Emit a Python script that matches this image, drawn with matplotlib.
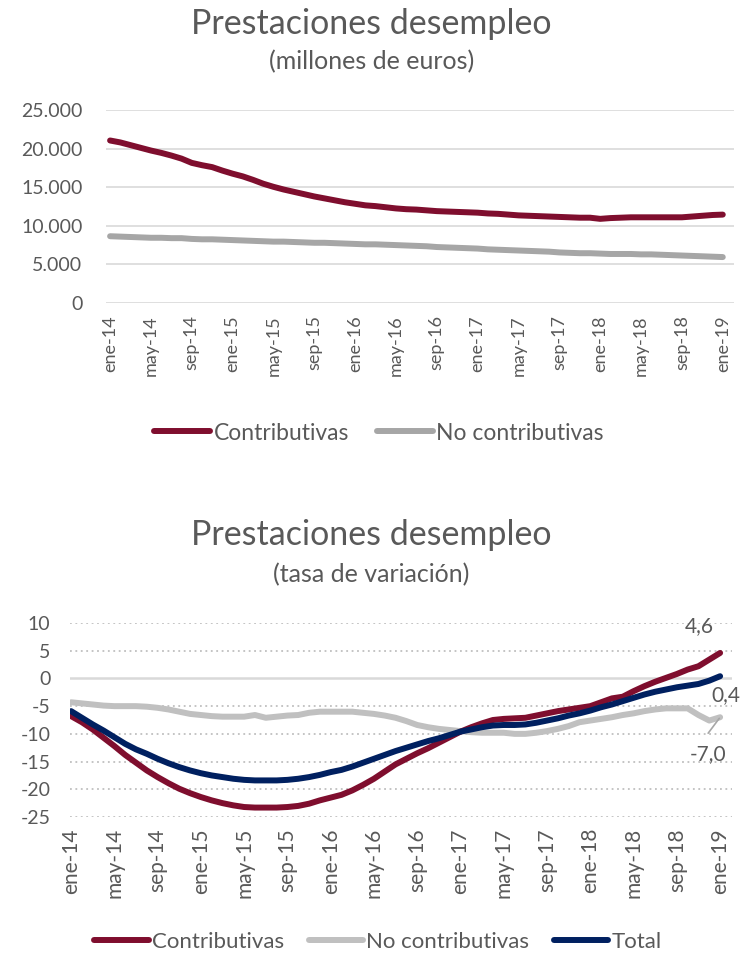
import matplotlib
matplotlib.use("Agg")
import matplotlib.pyplot as plt
from matplotlib.ticker import FuncFormatter, FixedLocator
from matplotlib.lines import Line2D

plt.rcParams['font.family'] = ['Lato', 'DejaVu Sans']

# ---------------- data ----------------
months = ["ene", "feb", "mar", "abr", "may", "jun", "jul", "ago", "sep", "oct", "nov", "dic"]
years = ["14", "15", "16", "17", "18", "19"]
categories = [f"{m}-{y}" for y in years for m in months][:61]   # ene-14 .. ene-19

tick_labels = ["ene-14", "may-14", "sep-14", "ene-15", "may-15", "sep-15", "ene-16", "may-16",
               "sep-16", "ene-17", "may-17", "sep-17", "ene-18", "may-18", "sep-18", "ene-19"]

# millones de euros
contrib_eur = [21050, 20800, 20450, 20100, 19750, 19450, 19100, 18700, 18150, 17850, 17600, 17150,
               16750, 16400, 15950, 15450, 15050, 14700, 14400, 14100, 13800, 13550, 13300, 13050,
               12850, 12650, 12550, 12400, 12250, 12150, 12100, 12000, 11900, 11850, 11800, 11750,
               11700, 11600, 11550, 11450, 11350, 11300, 11250, 11200, 11150, 11100, 11050, 11050,
               10900, 11000, 11050, 11100, 11100, 11100, 11100, 11100, 11100, 11200, 11300, 11400,
               11450]
nocontrib_eur = [8650, 8600, 8550, 8500, 8450, 8450, 8400, 8400, 8300, 8250, 8250, 8200,
                 8150, 8100, 8050, 8000, 7950, 7950, 7900, 7850, 7800, 7800, 7750, 7700,
                 7650, 7600, 7600, 7550, 7500, 7450, 7400, 7350, 7250, 7200, 7150, 7100,
                 7050, 6950, 6900, 6850, 6800, 6750, 6700, 6650, 6550, 6500, 6450, 6450,
                 6400, 6350, 6350, 6350, 6300, 6300, 6250, 6200, 6150, 6100, 6050, 6000,
                 5950]

# tasa de variación (%)
contrib_var = [-6.8, -7.9, -9.2, -10.7, -12.2, -13.8, -15.2, -16.6, -17.8, -18.9, -19.9, -20.7,
               -21.4, -22.0, -22.5, -22.9, -23.2, -23.3, -23.3, -23.3, -23.2, -23.0, -22.6, -22.0,
               -21.5, -21.0, -20.2, -19.2, -18.1, -16.8, -15.5, -14.5, -13.5, -12.6, -11.6, -10.6,
               -9.6, -8.8, -8.1, -7.5, -7.3, -7.2, -7.1, -6.7, -6.3, -5.9, -5.6, -5.3,
               -5.0, -4.3, -3.6, -3.3, -2.3, -1.4, -0.6, 0.1, 0.8, 1.6, 2.2, 3.4,
               4.6]
nocontrib_var = [-4.3, -4.5, -4.7, -4.9, -5.0, -5.0, -5.0, -5.1, -5.3, -5.6, -6.0, -6.4,
                 -6.6, -6.8, -6.9, -6.9, -6.9, -6.6, -7.1, -6.9, -6.7, -6.6, -6.2, -6.0,
                 -6.0, -6.0, -6.0, -6.2, -6.4, -6.7, -7.1, -7.7, -8.4, -8.8, -9.1, -9.3,
                 -9.5, -9.7, -9.8, -9.8, -9.8, -10.0, -10.0, -9.8, -9.5, -9.1, -8.6, -7.9,
                 -7.6, -7.3, -7.0, -6.6, -6.3, -5.9, -5.6, -5.4, -5.4, -5.4, -6.6, -7.6,
                 -7.0]
total_var = [-5.9, -7.1, -8.3, -9.4, -10.6, -11.8, -12.8, -13.6, -14.5, -15.3, -16.0, -16.6,
             -17.1, -17.5, -17.8, -18.1, -18.3, -18.4, -18.4, -18.4, -18.3, -18.1, -17.8, -17.4,
             -16.9, -16.5, -15.9, -15.2, -14.5, -13.8, -13.1, -12.5, -11.9, -11.3, -10.8, -10.2,
             -9.6, -9.2, -8.8, -8.5, -8.4, -8.4, -8.3, -8.0, -7.6, -7.2, -6.7, -6.3,
             -5.8, -5.2, -4.7, -4.1, -3.5, -2.9, -2.4, -2.0, -1.6, -1.3, -1.0, -0.4,
             0.4]

end_labels = ["4,6", "0,4", "-7,0"]

# ---------------- style ----------------
RED = "#7F0E2E"
NAVY = "#002060"
GRAY_TOP = "#A6A6A6"
GRAY_BOT = "#C0C0C0"
TXT = "#595959"
GRID = "#D9D9D9"
LW = 4.3

W, H = 743, 956
fig = plt.figure(figsize=(W / 100, H / 100), dpi=100)

def fx(px):
    return px / W

def fy(py):
    return 1 - py / H

x = list(range(len(categories)))
tick_pos = [categories.index(t) for t in tick_labels]

# ---------------- top chart ----------------
ax1 = fig.add_axes([fx(106), fy(303), fx(734) - fx(106), fy(110) - fy(303)])
ax1.plot(x, contrib_eur, color=RED, lw=LW, solid_capstyle='round', zorder=3)
ax1.plot(x, nocontrib_eur, color=GRAY_TOP, lw=LW, solid_capstyle='round', zorder=3)
ax1.set_ylim(0, 25000)
ax1.set_xlim(-0.4, 61.1)
ax1.yaxis.set_major_locator(FixedLocator([0, 5000, 10000, 15000, 20000, 25000]))
ax1.yaxis.set_major_formatter(FuncFormatter(lambda v, p: f"{int(v):,}".replace(",", ".")))
ax1.grid(axis='y', color=GRID, lw=1.2)
ax1.set_axisbelow(True)
ax1.set_xticks(tick_pos)
ax1.set_xticklabels(tick_labels, rotation=90)
for s in ax1.spines.values():
    s.set_visible(False)
ax1.tick_params(axis='both', length=0, colors=TXT)
ax1.tick_params(axis='y', pad=17, labelsize=14)
ax1.tick_params(axis='x', pad=9, labelsize=13)

fig.text(0.5, fy(24), "Prestaciones desempleo", ha='center', va='center', fontsize=24.5, color=TXT)
fig.text(0.5, fy(62), "(millones de euros)", ha='center', va='center', fontsize=18, color=TXT)

h1 = [Line2D([], [], color=RED, lw=LW, solid_capstyle='round'),
      Line2D([], [], color=GRAY_TOP, lw=LW, solid_capstyle='round')]
fig.legend(h1, ["Contributivas", "No contributivas"], loc='center', bbox_to_anchor=(fx(379), fy(433)),
           ncol=2, frameon=False, fontsize=16.5, handlelength=2.45, handletextpad=0.15,
           columnspacing=1.2, labelcolor=TXT)

# ---------------- bottom chart ----------------
ax2 = fig.add_axes([fx(70), fy(817), fx(732) - fx(70), fy(623) - fy(817)])
ax2.plot(x, nocontrib_var, color=GRAY_BOT, lw=LW, solid_capstyle='round', zorder=3)
ax2.plot(x, contrib_var, color=RED, lw=LW, solid_capstyle='round', zorder=4)
ax2.plot(x, total_var, color=NAVY, lw=LW, solid_capstyle='round', zorder=5)
ax2.set_ylim(-25, 10)
ax2.set_xlim(-0.1, 61.1)
yt = [10, 5, 0, -5, -10, -15, -20, -25]
ax2.yaxis.set_major_locator(FixedLocator(yt))
ax2.yaxis.set_major_formatter(FuncFormatter(lambda v, p: f"{int(v)}"))
for v in yt:
    if v == 0:
        ax2.axhline(v, color=GRID, lw=1.8, zorder=1)
    else:
        ax2.axhline(v, color="#BFBFBF", lw=1.3, ls=(0, (1, 2)), zorder=1)
ax2.set_xticks(tick_pos)
ax2.set_xticklabels(tick_labels, rotation=90)
for s in ax2.spines.values():
    s.set_visible(False)
ax2.tick_params(axis='both', length=0, colors=TXT)
ax2.tick_params(axis='y', pad=14, labelsize=14)
ax2.tick_params(axis='x', pad=8, labelsize=15)

n = len(x) - 1
ax2.annotate(end_labels[0], (x[n], contrib_var[n]), xytext=(-15, 19), textcoords='offset points',
             ha='center', va='center', fontsize=15, color=TXT)
ax2.annotate(end_labels[1], (x[n], total_var[n]), xytext=(4, -13.5), textcoords='offset points',
             ha='center', va='center', fontsize=15, color=TXT, annotation_clip=False)
ax2.annotate(end_labels[2], (x[n], nocontrib_var[n]), xytext=(-8.5, -26.5), textcoords='offset points',
             ha='center', va='center', fontsize=15, color=TXT)
ax2.annotate("", (x[n], nocontrib_var[n]), xytext=(-8.6, -11.5), textcoords='offset points',
             arrowprops=dict(arrowstyle='-', color="#A6A6A6", lw=1.2, shrinkA=0, shrinkB=1))

fig.text(0.5, fy(535), "Prestaciones desempleo", ha='center', va='center', fontsize=24.5, color=TXT)
fig.text(0.5, fy(575), "(tasa de variación)", ha='center', va='center', fontsize=18, color=TXT)

h2 = [Line2D([], [], color=RED, lw=LW, solid_capstyle='round'),
      Line2D([], [], color=GRAY_BOT, lw=LW, solid_capstyle='round'),
      Line2D([], [], color=NAVY, lw=LW, solid_capstyle='round')]
fig.legend(h2, ["Contributivas", "No contributivas", "Total"], loc='center',
           bbox_to_anchor=(fx(378), fy(942)), ncol=3, frameon=False, fontsize=16,
           handlelength=2.45, handletextpad=0.15, columnspacing=1.1, labelcolor=TXT)

fig.savefig("out.png", dpi=100)
